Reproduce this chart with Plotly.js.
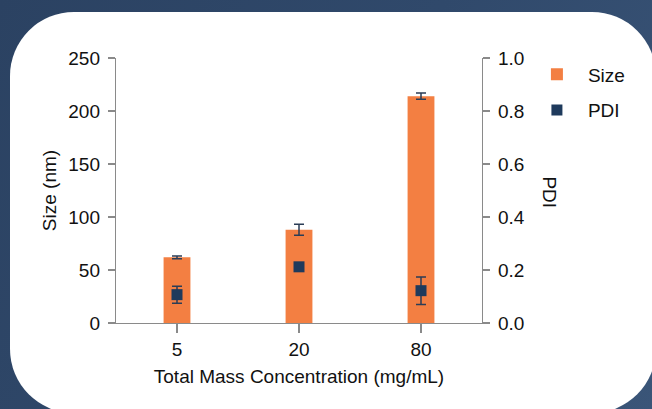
<!DOCTYPE html>
<html>
<head>
<meta charset="utf-8">
<script src="https://cdn.plot.ly/plotly-3.0.1.min.js"></script>
<style>
  html, body { margin: 0; padding: 0; width: 652px; height: 409px; overflow: hidden;
    background: linear-gradient(120deg, #2b4262 0%, #30496b 50%, #3a5578 100%); }
  #card { position: absolute; left: 10px; top: 12px; width: 646px; height: 401px;
    background: #ffffff; border-radius: 64px; }
  #chart { position: absolute; left: 0; top: 0; width: 652px; height: 409px; }
</style>
</head>
<body>
<div id="card"></div>
<div id="chart"></div>
<script>
// Data
const categories = ['5', '20', '80'];
const sizeValues = [62, 88, 214];
const sizeErrors = [1.3, 5.2, 3];
const pdiValues = [0.107, 0.212, 0.122];
const pdiErrors = [0.032, 0.01, 0.052];

const FONT = 'Arial, "Liberation Sans", Helvetica, sans-serif';
const ORANGE = '#f37f42';
const NAVY = '#1e3a5c';
const AXIS = '#8a8a8a';

const traces = [
  {
    type: 'bar',
    name: 'Size',
    x: categories,
    y: sizeValues,
    width: 0.22,
    marker: { color: ORANGE },
    error_y: { type: 'data', array: sizeErrors, visible: true, color: '#2b3d56', thickness: 1.5, width: 5 },
    legendgroup: 'a',
    yaxis: 'y'
  },
  {
    type: 'scatter',
    mode: 'markers',
    name: 'PDI',
    x: categories,
    y: pdiValues,
    marker: { symbol: 'square', size: 11, color: NAVY },
    error_y: { type: 'data', array: pdiErrors, visible: true, color: '#2b3d56', thickness: 1.5, width: 5 },
    legendgroup: 'b',
    yaxis: 'y2'
  }
];

const axisCommon = {
  showline: true, linecolor: AXIS, linewidth: 1.2,
  ticks: 'outside', ticklen: 7, tickwidth: 1.2, tickcolor: AXIS,
  showgrid: false, zeroline: false,
  tickfont: { family: FONT, size: 19, color: '#111111' }
};

const layout = {
  width: 652, height: 409,
  margin: { l: 116, r: 170, t: 58, b: 86 },
  paper_bgcolor: 'rgba(0,0,0,0)',
  plot_bgcolor: 'rgba(0,0,0,0)',
  font: { family: FONT, size: 19, color: '#111111' },
  showlegend: true,
  legend: {
    x: 1.12, xanchor: 'left', y: 1.01, yanchor: 'top',
    font: { family: FONT, size: 19, color: '#111111' },
    itemwidth: 52, tracegroupgap: 8, bgcolor: 'rgba(0,0,0,0)'
  },
  xaxis: Object.assign({}, axisCommon, {
    type: 'category', range: [-0.5, 2.5], ticklen: 9,
    title: { text: 'Total Mass Concentration (mg/mL)', font: { family: FONT, size: 19, color: '#111111' }, standoff: 10 }
  }),
  yaxis: Object.assign({}, axisCommon, {
    range: [0, 250], dtick: 50, tick0: 0, ticklabelstandoff: 4,
    title: { text: 'Size (nm)', font: { family: FONT, size: 19, color: '#111111' }, standoff: 6 }
  }),
  yaxis2: Object.assign({}, axisCommon, {
    overlaying: 'y', side: 'right', range: [0, 1], dtick: 0.2, tick0: 0,
    tickformat: '.1f', ticklabelstandoff: 4
  }),
  annotations: [{
    text: 'PDI', xref: 'paper', yref: 'paper', x: 1.185, y: 0.494,
    xanchor: 'center', yanchor: 'middle', showarrow: false, textangle: 90,
    font: { family: FONT, size: 19, color: '#111111' }
  }],
  bargap: 0.5
};

Plotly.newPlot('chart', traces, layout, { displayModeBar: false, staticPlot: true });
</script>
</body>
</html>
